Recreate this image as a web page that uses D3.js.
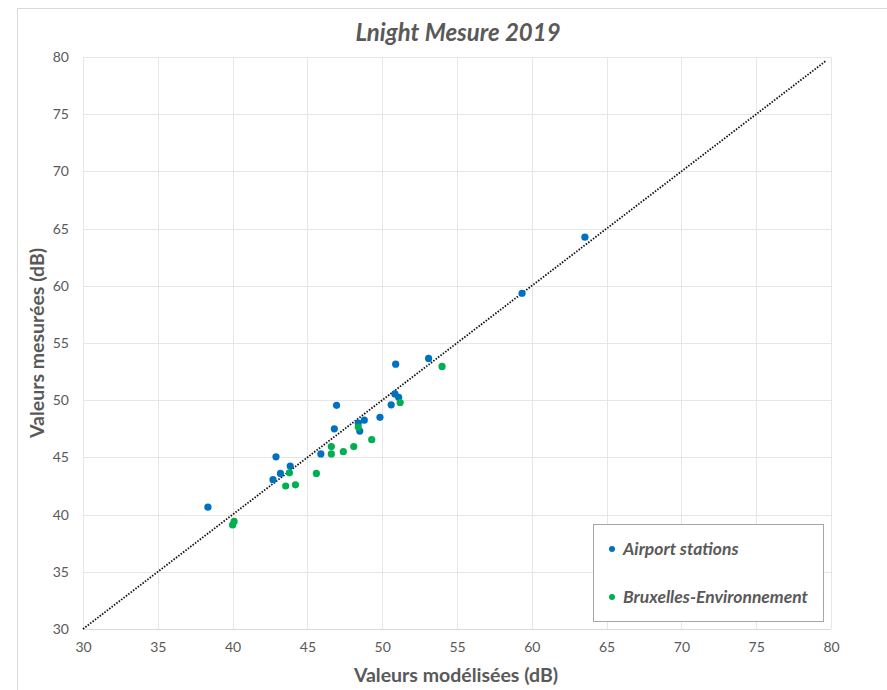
<!DOCTYPE html>
<html>
<head>
<meta charset="utf-8">
<script src="https://cdn.jsdelivr.net/npm/d3@7"></script>
<style>
  html, body { margin: 0; padding: 0; background: #fff; }
  svg { display: block; font-family: Lato, "Open Sans", sans-serif; }
</style>
</head>
<body>
<svg id="chart" width="887" height="690"></svg>
<script>
const title = "Lnight Mesure 2019";
const xTitle = "Valeurs modélisées (dB)";
const yTitle = "Valeurs mesurées (dB)";
const xTicks = [30, 35, 40, 45, 50, 55, 60, 65, 70, 75, 80];
const yTicks = [30, 35, 40, 45, 50, 55, 60, 65, 70, 75, 80];
const seriesNames = ["Airport stations", "Bruxelles-Environnement"];
const airportX = [38.35, 42.7, 43.2, 42.9, 43.85, 45.9, 46.8, 46.95, 48.4, 48.5, 48.8, 49.85, 50.6, 50.85, 51.1, 50.9, 53.1, 59.35, 63.55];
const airportY = [40.65, 43.05, 43.6, 45.05, 44.25, 45.3, 47.5, 49.55, 48.0, 47.3, 48.25, 48.5, 49.6, 50.55, 50.25, 53.15, 53.65, 59.35, 64.25];
const bruxX = [40.0, 40.1, 43.55, 43.8, 44.2, 45.6, 46.6, 46.6, 47.4, 48.1, 48.4, 49.3, 51.2, 54.0];
const bruxY = [39.1, 39.4, 42.5, 43.65, 42.6, 43.6, 45.3, 45.95, 45.5, 45.95, 47.65, 46.55, 49.8, 52.95];
const lineStart = 30, lineEnd = 79.7;

const svg = d3.select("#chart");
const textColor = "#595959";

// outer chart border
svg.append("rect").attr("x", 17.5).attr("y", 8.5).attr("width", 900).attr("height", 700)
  .attr("fill", "#fff").attr("stroke", "#d9d9d9");

const x = d3.scaleLinear().domain([30, 80]).range([83, 831]);
const y = d3.scaleLinear().domain([30, 80]).range([629, 57]);

// grid
const g = svg.append("g");
g.selectAll("line.v").data(xTicks).join("line")
  .attr("x1", d => Math.round(x(d)) + 0.5).attr("x2", d => Math.round(x(d)) + 0.5)
  .attr("y1", y(30)).attr("y2", y(80))
  .attr("stroke", "#e6e6e6").attr("stroke-width", 1);
g.selectAll("line.h").data(yTicks).join("line")
  .attr("y1", d => Math.round(y(d)) + 0.5).attr("y2", d => Math.round(y(d)) + 0.5)
  .attr("x1", x(30)).attr("x2", x(80))
  .attr("stroke", d => d === 30 ? "#d9d9d9" : "#e6e6e6").attr("stroke-width", 1);

// axes labels via d3 axes
const xAxis = svg.append("g").attr("transform", `translate(0,${y(30) + 9})`)
  .call(d3.axisBottom(x).tickValues(xTicks).tickSize(0).tickPadding(4));
xAxis.select(".domain").remove();
xAxis.selectAll("text").attr("fill", textColor).style("font-size", "14px").style("font-family", "Lato, sans-serif");

const yAxis = svg.append("g").attr("transform", `translate(${x(30) - 14},0)`)
  .call(d3.axisLeft(y).tickValues(yTicks).tickSize(0).tickPadding(0));
yAxis.select(".domain").remove();
yAxis.selectAll("text").attr("fill", textColor).style("font-size", "14px").style("font-family", "Lato, sans-serif");

// diagonal dotted line
svg.append("line")
  .attr("x1", x(lineStart)).attr("y1", y(lineStart))
  .attr("x2", x(lineEnd)).attr("y2", y(lineEnd))
  .attr("stroke", "#111").attr("stroke-width", 1.8).attr("stroke-dasharray", "1.5,1.5");

// points
const blue = "#0070C0", green = "#00B050";
svg.append("g").selectAll("circle").data(airportX.map((v, i) => [v, airportY[i]])).join("circle")
  .attr("cx", d => x(d[0])).attr("cy", d => y(d[1])).attr("r", 3.6).attr("fill", blue);
svg.append("g").selectAll("circle").data(bruxX.map((v, i) => [v, bruxY[i]])).join("circle")
  .attr("cx", d => x(d[0])).attr("cy", d => y(d[1])).attr("r", 3.6).attr("fill", green);

// title
svg.append("text").attr("x", 458).attr("y", 41).attr("text-anchor", "middle")
  .attr("fill", textColor).style("font-size", "24px").style("font-weight", "bold").style("font-style", "italic")
  .text(title);

// axis titles
svg.append("text").attr("x", 456).attr("y", 682).attr("text-anchor", "middle")
  .attr("fill", textColor).style("font-size", "19.5px").style("font-weight", "bold").text(xTitle);
svg.append("text").attr("transform", "translate(44,343) rotate(-90)").attr("text-anchor", "middle")
  .attr("fill", textColor).style("font-size", "19.5px").style("font-weight", "bold").text(yTitle);

// legend
const leg = svg.append("g");
leg.append("rect").attr("x", 593.5).attr("y", 524.5).attr("width", 230).attr("height", 97)
  .attr("fill", "#fff").attr("stroke", "#a6a6a6").attr("stroke-width", 1);
const legColors = [blue, green];
const legY = [549, 597];
seriesNames.forEach((n, i) => {
  leg.append("circle").attr("cx", 612).attr("cy", legY[i]).attr("r", 3).attr("fill", legColors[i]);
  leg.append("text").attr("x", 623).attr("y", legY[i] + 6).attr("fill", textColor)
    .style("font-size", "17.5px").style("font-weight", "bold").style("font-style", "italic").text(n);
});
</script>
</body>
</html>
